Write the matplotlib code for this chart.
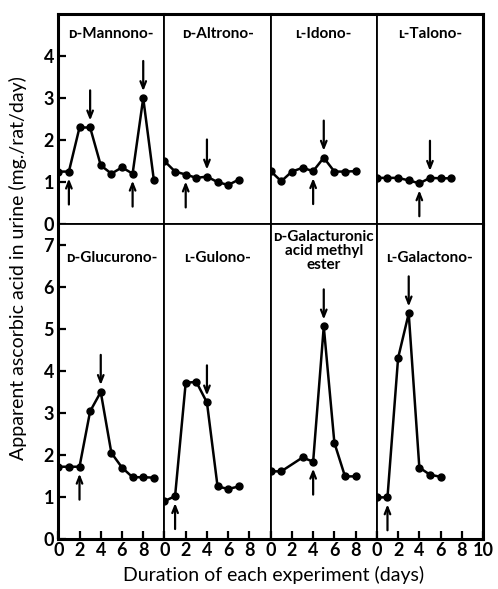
import matplotlib
matplotlib.use('Agg')
import matplotlib.pyplot as plt

plt.rcParams['font.family'] = ['Lato', 'DejaVu Sans']

# panel titles (small-cap D / L prefixes)
names = ['ᴅ-Mannono-', 'ᴅ-Altrono-', 'ʟ-Idono-', 'ʟ-Talono-',
         'ᴅ-Glucurono-', 'ʟ-Gulono-', 'ᴅ-Galacturonic\nacid methyl\nester', 'ʟ-Galactono-']

# days and values for each panel
days_mannono = [0, 1, 2, 3, 4, 5, 6, 7, 8, 9]
vals_mannono = [1.25, 1.25, 2.3, 2.3, 1.4, 1.2, 1.35, 1.2, 3.0, 1.05]
days_altrono = [0, 1, 2, 3, 4, 5, 6, 7]
vals_altrono = [1.5, 1.25, 1.18, 1.1, 1.13, 1.0, 0.93, 1.06]
days_idono = [0, 1, 2, 3, 4, 5, 6, 7, 8]
vals_idono = [1.26, 1.02, 1.25, 1.34, 1.26, 1.58, 1.25, 1.25, 1.26]
days_talono = [0, 1, 2, 3, 4, 5, 6, 7]
vals_talono = [1.1, 1.1, 1.1, 1.04, 0.97, 1.1, 1.09, 1.09]
days_glucurono = [0, 1, 2, 3, 4, 5, 6, 7, 8, 9]
vals_glucurono = [1.72, 1.72, 1.72, 3.04, 3.5, 2.05, 1.7, 1.47, 1.47, 1.46]
days_gulono = [0, 1, 2, 3, 4, 5, 6, 7]
vals_gulono = [0.9, 1.02, 3.72, 3.74, 3.25, 1.25, 1.19, 1.25]
days_galact = [0, 1, 3, 4, 5, 6, 7, 8]
vals_galact = [1.61, 1.61, 1.94, 1.84, 5.06, 2.29, 1.49, 1.49]
days_galactono = [0, 1, 2, 3, 4, 5, 6]
vals_galactono = [0.99, 0.99, 4.31, 5.37, 1.7, 1.53, 1.48]

# arrows: up = start of dosing, down = end
up_days = [[1, 7], [2], [4], [4], [2], [1], [4], [1]]
down_days = [[3, 8], [4], [5], [5], [4], [4], [5], [3]]

all_days = [days_mannono, days_altrono, days_idono, days_talono,
            days_glucurono, days_gulono, days_galact, days_galactono]
all_vals = [vals_mannono, vals_altrono, vals_idono, vals_talono,
            vals_glucurono, vals_gulono, vals_galact, vals_galactono]

fig = plt.figure(figsize=(4.98, 5.89), dpi=100)
gs = fig.add_gridspec(2, 4, height_ratios=[5, 7.5], wspace=0, hspace=0,
                      left=0.117, right=0.970, top=0.976, bottom=0.085)

for i in range(8):
    row, col = divmod(i, 4)
    ax = fig.add_subplot(gs[row, col])
    d = all_days[i]
    v = all_vals[i]
    ax.plot(d, v, color='black', lw=1.8, marker='o', ms=5)
    ax.set_xlim(0, 10)
    ax.set_ylim(0, 5 if row == 0 else 7.5)
    for s in ax.spines.values():
        s.set_linewidth(1.3)
    if col == 0:
        ax.spines['left'].set_linewidth(2.2)
    if col == 3:
        ax.spines['right'].set_linewidth(2.2)
    if row == 0:
        ax.spines['top'].set_linewidth(2.2)
    else:
        ax.spines['bottom'].set_linewidth(2.2)

    for day in up_days[i]:
        y = v[d.index(day)]
        ax.annotate('', xy=(day, y - 0.1), xytext=(day, y - 0.85),
                    arrowprops=dict(arrowstyle='->,head_length=0.5,head_width=0.2',
                                    color='black', lw=1.6))
    for day in down_days[i]:
        y = v[d.index(day)]
        ax.annotate('', xy=(day, y + 0.1), xytext=(day, y + 0.95),
                    arrowprops=dict(arrowstyle='->,head_length=0.5,head_width=0.2',
                                    color='black', lw=1.6))

    if i == 6:
        ax.text(5, 7.36, names[i], ha='center', va='top', fontsize=11,
                fontweight='bold', linespacing=1.0)
    else:
        ty = 4.52 if row == 0 else 6.68
        ax.text(5, ty, names[i], ha='center', va='center', fontsize=11,
                fontweight='bold')

    if col == 0:
        top = 4 if row == 0 else 7
        ax.set_yticks(range(0, top + 1))
        ax.tick_params(axis='y', direction='in', length=6, width=1.6,
                       labelsize=13, pad=3)
        for t in ax.get_yticklabels():
            t.set_fontweight('bold')
    else:
        ax.set_yticks([])
    if row == 1:
        ax.set_xticks([0, 2, 4, 6, 8, 10])
        ax.set_xticklabels(['0', '2', '4', '6', '8', '10' if col == 3 else ''])
        ax.tick_params(axis='x', direction='in', length=6, width=1.6,
                       labelsize=13, pad=2)
        for t in ax.get_xticklabels():
            t.set_fontweight('bold')
    else:
        ax.set_xticks([])

fig.text(0.55, 0.023, 'Duration of each experiment (days)', ha='center',
         va='center', fontsize=14)
fig.text(0.036, 0.545, 'Apparent ascorbic acid in urine (mg./rat/day)',
         ha='center', va='center', rotation=90, fontsize=14)

fig.savefig('out.png', dpi=100)
